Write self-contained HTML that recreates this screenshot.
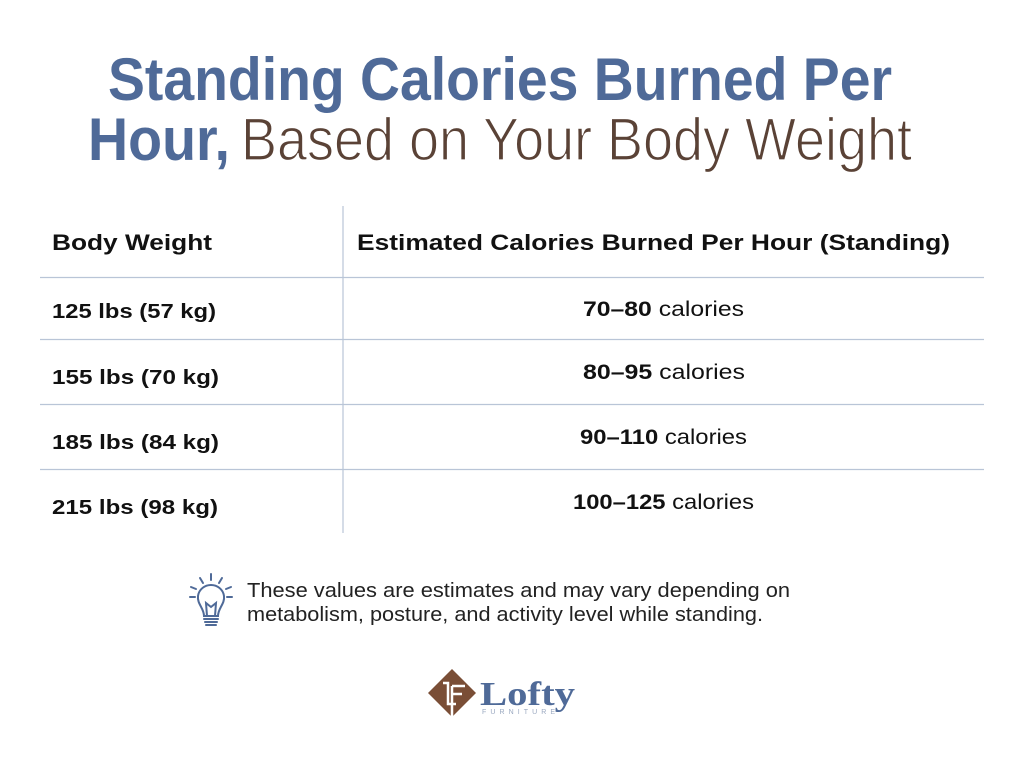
<!DOCTYPE html>
<html><head><meta charset="utf-8"><style>
html,body{margin:0;padding:0;background:#fff;}
svg{display:block;font-family:"Liberation Sans",sans-serif;}
</style></head><body>
<svg width="1024" height="758" viewBox="0 0 1024 758">
<rect width="1024" height="758" fill="#fff"/>
<text x="108" y="100" font-size="60" font-weight="bold" fill="#4f6a98" textLength="784" lengthAdjust="spacingAndGlyphs">Standing Calories Burned Per</text>
<text y="160" font-size="60"><tspan x="88" font-weight="bold" fill="#4f6a98" textLength="142" lengthAdjust="spacingAndGlyphs">Hour,</tspan><tspan x="241" fill="#5a4236" stroke="#fff" stroke-width="1.3" textLength="671" lengthAdjust="spacingAndGlyphs">Based on Your Body Weight</tspan></text>

<g stroke="#b9c5d7" stroke-width="1.2">
<line x1="343" y1="206" x2="343" y2="533"/>
<line x1="40" y1="277.5" x2="984" y2="277.5"/>
<line x1="40" y1="339.5" x2="984" y2="339.5"/>
<line x1="40" y1="404.5" x2="984" y2="404.5"/>
<line x1="40" y1="469.5" x2="984" y2="469.5"/>
</g>
<g fill="#111" font-weight="bold">
<text x="52" y="250" font-size="22" textLength="160" lengthAdjust="spacingAndGlyphs">Body Weight</text>
<text x="357" y="250" font-size="22" textLength="593" lengthAdjust="spacingAndGlyphs">Estimated Calories Burned Per Hour (Standing)</text>
<text x="52" y="318" font-size="20" textLength="164" lengthAdjust="spacingAndGlyphs">125 lbs (57 kg)</text>
<text x="52" y="384" font-size="20" textLength="167" lengthAdjust="spacingAndGlyphs">155 lbs (70 kg)</text>
<text x="52" y="449" font-size="20" textLength="167" lengthAdjust="spacingAndGlyphs">185 lbs (84 kg)</text>
<text x="52" y="514" font-size="20" textLength="166" lengthAdjust="spacingAndGlyphs">215 lbs (98 kg)</text>
</g>
<g font-size="21" fill="#111">
<text x="583" y="316" textLength="161" lengthAdjust="spacingAndGlyphs"><tspan font-weight="bold">70–80</tspan> calories</text>
<text x="583" y="379" textLength="162" lengthAdjust="spacingAndGlyphs"><tspan font-weight="bold">80–95</tspan> calories</text>
<text x="580" y="444" textLength="167" lengthAdjust="spacingAndGlyphs"><tspan font-weight="bold">90–110</tspan> calories</text>
<text x="573" y="509" textLength="181" lengthAdjust="spacingAndGlyphs"><tspan font-weight="bold">100–125</tspan> calories</text>
</g>

<g stroke="#4f6a98" stroke-width="2" fill="none" stroke-linecap="round">
<line x1="211" y1="574" x2="211" y2="580"/>
<line x1="200" y1="578" x2="203" y2="583"/>
<line x1="222" y1="578" x2="219" y2="583"/>
<line x1="191" y1="587" x2="196" y2="589"/>
<line x1="231" y1="587" x2="226" y2="589"/>
<line x1="190" y1="597" x2="195" y2="597"/>
<line x1="227" y1="597" x2="232" y2="597"/>
<path d="M204 616 C204 608 197 604 198 596 C199 589 205 585 211 585 C217 585 223 589 224 596 C225 604 218 608 218 616 Z"/>
<path d="M207 616 L206 603 L211 607 L216 603 L215 616"/>
<line x1="204" y1="619" x2="218" y2="619"/>
<line x1="205" y1="622" x2="217" y2="622"/>
<line x1="206" y1="625" x2="216" y2="625"/>
</g>
<text x="247" y="597" font-size="20" fill="#222" textLength="543" lengthAdjust="spacingAndGlyphs">These values are estimates and may vary depending on</text>
<text x="247" y="621" font-size="20" fill="#222" textLength="516" lengthAdjust="spacingAndGlyphs">metabolism, posture, and activity level while standing.</text>

<g>
<polygon points="452,669 476,693 452,717 428,693" fill="#7a4e36"/>
<path d="M443 683 L448 683 L448 704 L456 704 M452 686 L465 686 M452 694 L462 694 M452 686 L452 717" stroke="#fff" stroke-width="2.5" fill="none"/>
<text x="480" y="705" font-family="Liberation Serif,serif" font-weight="bold" font-size="34" fill="#4f6a98" textLength="95" lengthAdjust="spacingAndGlyphs">Lofty</text>
<text x="482" y="714" font-size="7" fill="#9aa8c0" textLength="73" lengthAdjust="spacing">FURNITURE</text>
</g>
</svg>
</body></html>
